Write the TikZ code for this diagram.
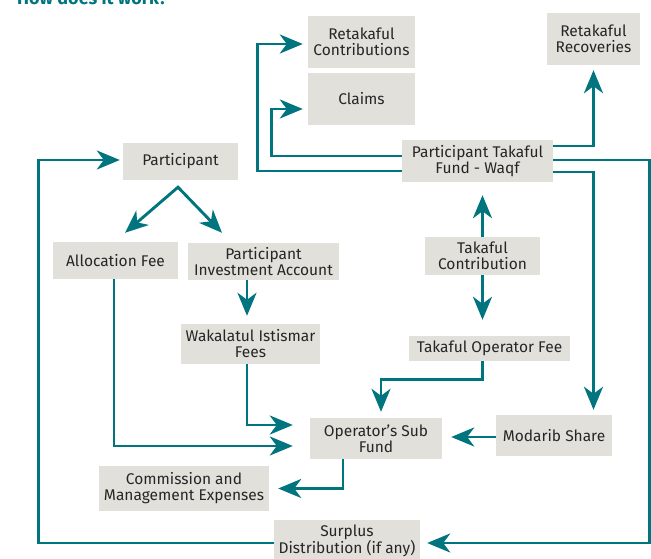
\documentclass[tikz,border=0pt]{standalone}
\usepackage{fontspec}
\setmainfont{Fira Sans}
\usetikzlibrary{arrows.meta}

\definecolor{flowteal}{RGB}{0,117,127}
\definecolor{boxgray}{RGB}{225,224,219}
\definecolor{ink}{RGB}{38,38,38}

\tikzset{
  box/.style={fill=boxgray, text=ink, inner sep=0pt, align=center,
    font=\fontsize{15.5}{16}\selectfont},
  link/.style={draw=flowteal, line width=2.9pt},
  arr/.style={link, -{Stealth[length=23pt,width=19pt,inset=7pt]}},
  arrs/.style={link, {Stealth[length=23pt,width=19pt,inset=7pt]}-{Stealth[length=23pt,width=19pt,inset=7pt]}},
}

\begin{document}
\begin{tikzpicture}[x=1pt,y=-1pt]
  \useasboundingbox (0,0) rectangle (651,559);

  % heading
  \node[anchor=base west, inner sep=0pt, text=flowteal,
    font=\fontsize{18}{18}\selectfont\bfseries] (title) at (17,4.5) {How does it work?};

  % boxes
  \node[box, minimum width=107pt, minimum height=52pt] (rc)     at (361.5,42)   {Retakaful\\Contributions};
  \node[box, minimum width=107pt, minimum height=52pt] (claims) at (361.5,99)   {Claims};
  \node[box, minimum width=93pt,  minimum height=52pt] (rr)     at (593.5,39)   {Retakaful\\Recoveries};
  \node[box, minimum width=151pt, minimum height=42pt] (ptf)    at (477.5,161)  {Participant Takaful\\Fund - Waqf};
  \node[box, minimum width=115pt, minimum height=37pt] (part)   at (180.5,161.5){Participant};
  \node[box, minimum width=125pt, minimum height=37pt] (alloc)  at (115.5,260.5){Allocation Fee};
  \node[box, minimum width=151pt, minimum height=37pt] (pia)    at (263.5,261.5){Participant\\Investment Account};
  \node[box, minimum width=139pt, minimum height=40pt] (wak)    at (250.5,344)  {Wakalatul Istismar\\Fees};
  \node[box, minimum width=115pt, minimum height=38pt] (tc)     at (482.5,256)  {Takaful\\Contribution};
  \node[box, minimum width=161pt, minimum height=25pt] (tof)    at (489.5,348.5){Takaful Operator Fee};
  \node[box, minimum width=132pt, minimum height=41pt] (osf)    at (376,438.5)  {Operator’s Sub\\Fund};
  \node[box, minimum width=116pt, minimum height=41pt] (mod)    at (554,435.5)  {Modarib Share};
  \node[box, minimum width=170pt, minimum height=45pt] (com)    at (184,488.5)  {Commission and\\Management Expenses};
  \node[box, minimum width=146pt, minimum height=42pt] (sur)    at (347,541)    {Surplus\\Distribution (if any)};

  % fork below the participant
  \coordinate (fork) at ([xshift=-2.5pt,yshift=-7pt]part.south);

  % fund outflows to the left
  \draw[arr] ([yshift=-10pt]ptf.west) -- ++(-144,0) |- ([xshift=-5pt,yshift=-2pt]rc.west);
  \draw[arr] ([yshift=5pt]ptf.west) -- ++(-130,0) |- ([xshift=-5pt,yshift=-10pt]claims.west);

  % fund outflows to the right
  \draw[arr] ([yshift=15pt]ptf.east) -| ([yshift=-5pt]rr.south);
  \draw[arr] ([yshift=1pt]ptf.east) -- ++(96,0) |- ([xshift=7pt,yshift=-2pt]sur.east);
  \draw[arr] ([yshift=-11pt]ptf.east) -| ([xshift=39.5pt,yshift=5pt]mod.north);

  % contribution split
  \draw[arr, shorten >=13pt] (tc.north) -- (tc.north |- ptf.south);
  \draw[arr, shorten >=16pt] (tc.south) -- (tc.south |- tof.north);

  % operator's sub fund inflows
  \draw[arr] ([xshift=-7pt]tof.south) -- ++(0,18) -| ([xshift=5pt,yshift=6pt]osf.north);
  \draw[arr, shorten >=9pt] ([yshift=-1.5pt]mod.west) -- ([yshift=-1.5pt]mod.west -| osf.east);
  \draw[arr] ([xshift=-3.5pt]wak.south) |- ([xshift=-17pt,yshift=13.5pt]osf.west);
  \draw[arr] ([xshift=-1.5pt]alloc.south) |- ([xshift=-17pt,yshift=-7.5pt]osf.west);

  % operator's expenses
  \draw[arr] ([xshift=-33pt]osf.south) |- ([xshift=9pt]com.east);

  % participant split
  \draw[arrs] ([xshift=9.5pt,yshift=9pt]alloc.north) -- (fork) -- ([xshift=-41.5pt,yshift=10pt]pia.north);
  \draw[arr, shorten >=8pt] ([xshift=-16.5pt]pia.south) -- ([xshift=-16.5pt]pia.south |- wak.north);

  % surplus back to the participant
  \draw[arr] ([yshift=-2pt]sur.west) -- ++(-235,0) |- ([xshift=-3pt,yshift=1.5pt]part.west);
\end{tikzpicture}
\end{document}
